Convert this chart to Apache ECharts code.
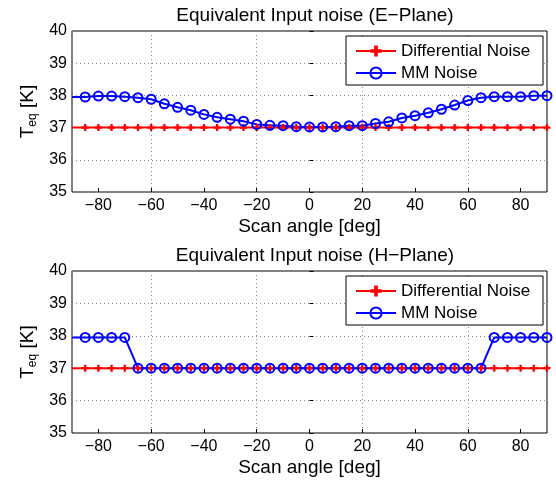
<!DOCTYPE html>
<html>
<head>
<meta charset="utf-8">
<script src="https://cdn.jsdelivr.net/npm/echarts@6/dist/echarts.min.js"></script>
<style>
  html, body { margin: 0; padding: 0; background: #fff; }
  #chart { width: 556px; height: 480px; }
</style>
</head>
<body>
<div id="chart"></div>
<script>
// scan angles in degrees
var angles = [-90, -85, -80, -75, -70, -65, -60, -55, -50, -45, -40, -35, -30, -25, -20, -15, -10, -5,
  0, 5, 10, 15, 20, 25, 30, 35, 40, 45, 50, 55, 60, 65, 70, 75, 80, 85, 90];

var diffNoise = [37, 37, 37, 37, 37, 37, 37, 37, 37, 37, 37, 37, 37, 37, 37, 37, 37, 37,
  37, 37, 37, 37, 37, 37, 37, 37, 37, 37, 37, 37, 37, 37, 37, 37, 37, 37, 37];

var mmNoiseE = [37.95, 37.95, 37.98, 37.98, 37.96, 37.93, 37.88, 37.74, 37.63, 37.54, 37.41, 37.32, 37.26, 37.2, 37.1, 37.07, 37.06, 37.03,
  37.02, 37.02, 37.03, 37.06, 37.06, 37.13, 37.18, 37.3, 37.37, 37.46, 37.57, 37.7, 37.84, 37.93, 37.96, 37.96, 37.96, 37.99, 37.99];

var mmNoiseH = [37.95, 37.95, 37.95, 37.95, 37.95, 37, 37, 37, 37, 37, 37, 37, 37, 37, 37, 37, 37, 37,
  37, 37, 37, 37, 37, 37, 37, 37, 37, 37, 37, 37, 37, 37, 37.95, 37.95, 37.95, 37.95, 37.95];

var xTicks = [-80, -60, -40, -20, 0, 20, 40, 60, 80];
var yTicks = [35, 36, 37, 38, 39, 40];

var titles = ['Equivalent Input noise (E\u2212Plane)', 'Equivalent Input noise (H\u2212Plane)'];

// the point on the left edge gets no marker
function pairs(vals) {
  return angles.map(function (a, i) {
    return i === 0 ? { value: [a, vals[i]], symbol: 'none' } : [a, vals[i]];
  });
}

var font = 'Liberation Sans, Arial, sans-serif';
var plusPath = 'path://M2,0H4V2H6V4H4V6H2V4H0V2H2Z';

function xAxisFor(idx) {
  return {
    type: 'value', gridIndex: idx, min: -90, max: 90, interval: 10,
    name: 'Scan angle [deg]', nameLocation: 'middle', nameGap: 25,
    nameTextStyle: { fontFamily: font, fontSize: 19, color: '#000' },
    axisLine: { show: false },
    axisTick: { show: true, inside: true, length: 4, customValues: xTicks, lineStyle: { color: '#000' } },
    axisLabel: {
      customValues: xTicks, fontFamily: font, fontSize: 16, color: '#000', margin: 6,
      formatter: function (v) { return String(v).replace('-', '\u2212'); }
    },
    splitLine: { show: true, lineStyle: { color: ['transparent', '#888'], type: [1, 3], width: 1 } }
  };
}

function yAxisFor(idx) {
  return {
    type: 'value', gridIndex: idx, min: 35, max: 40, interval: 1,
    name: '{a|T}{s|eq}{a| [K]}', nameLocation: 'middle', nameGap: 30,
    nameTextStyle: {
      rich: {
        a: { fontFamily: font, fontSize: 19, color: '#000' },
        s: { fontFamily: font, fontSize: 12, color: '#000', verticalAlign: 'bottom', padding: [10, 0, 0, 0] }
      }
    },
    axisLine: { show: false },
    axisTick: { show: true, inside: true, length: 4, lineStyle: { color: '#000' } },
    axisLabel: { customValues: yTicks, fontFamily: font, fontSize: 16, color: '#000', margin: 5 },
    splitLine: { show: true, lineStyle: { color: '#888', type: [1, 3], width: 1 } }
  };
}

function seriesFor(idx, mm) {
  return [
    {
      name: 'Differential Noise', type: 'line', xAxisIndex: idx, yAxisIndex: idx,
      data: pairs(diffNoise), symbol: plusPath, symbolSize: 7,
      lineStyle: { color: '#ff0000', width: 2 },
      itemStyle: { color: '#ff0000' },
      animation: false
    },
    {
      name: 'MM Noise', type: 'line', xAxisIndex: idx, yAxisIndex: idx,
      data: pairs(mm), symbol: 'circle', symbolSize: 9,
      lineStyle: { color: '#0000ff', width: 2 },
      itemStyle: { color: 'transparent', borderColor: '#0000ff', borderWidth: 2 },
      animation: false
    }
  ];
}

function legendFor(top) {
  return {
    orient: 'vertical', left: 346, top: top,
    backgroundColor: '#fff', borderColor: '#000', borderWidth: 1,
    padding: [6, 4, 3, 9], itemGap: 4, itemWidth: 40, itemHeight: 14,
    textStyle: { fontFamily: font, fontSize: 17, color: '#000', lineHeight: 18, width: 138 },
    data: ['Differential Noise', 'MM Noise'],
    selectedMode: false
  };
}

var chart = echarts.init(document.getElementById('chart'));
chart.setOption({
  backgroundColor: '#fff',
  animation: false,
  title: [
    { text: titles[0], left: 310, top: 1, textAlign: 'center',
      textStyle: { fontFamily: font, fontSize: 19, fontWeight: 'normal', color: '#000' } },
    { text: titles[1], left: 310, top: 241, textAlign: 'center',
      textStyle: { fontFamily: font, fontSize: 19, fontWeight: 'normal', color: '#000' } }
  ],
  legend: [legendFor(36), legendFor(276)],
  grid: [
    { left: 72, top: 31, width: 475, height: 161, show: true, borderColor: '#000', borderWidth: 1, backgroundColor: '#fff' },
    { left: 72, top: 271, width: 475, height: 162, show: true, borderColor: '#000', borderWidth: 1, backgroundColor: '#fff' }
  ],
  xAxis: [xAxisFor(0), xAxisFor(1)],
  yAxis: [yAxisFor(0), yAxisFor(1)],
  series: seriesFor(0, mmNoiseE).concat(seriesFor(1, mmNoiseH))
});
</script>
</body>
</html>
